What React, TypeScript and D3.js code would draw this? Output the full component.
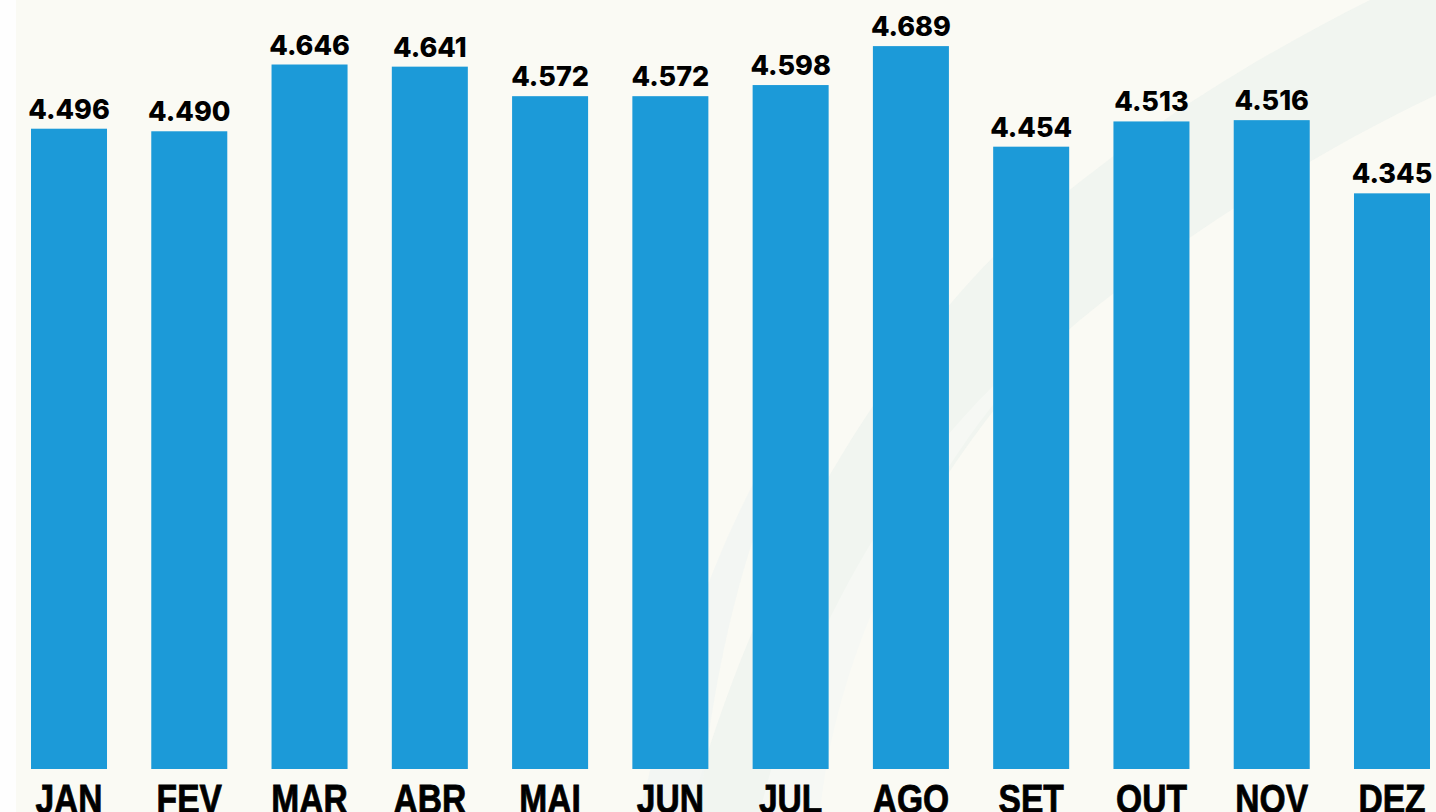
import React from "react";
import * as d3 from "d3";

const months = ["JAN", "FEV", "MAR", "ABR", "MAI", "JUN", "JUL", "AGO", "SET", "OUT", "NOV", "DEZ"];
const values = [4.496, 4.49, 4.646, 4.641, 4.572, 4.572, 4.598, 4.689, 4.454, 4.513, 4.516, 4.345];
const valueLabels = ["4.496", "4.490", "4.646", "4.641", "4.572", "4.572", "4.598", "4.689", "4.454", "4.513", "4.516", "4.345"];

const W = 1436;
const H = 812;

export default function App() {
  const x = d3.scaleBand<string>().domain(months).range([31, 1430]).paddingInner(0.368).paddingOuter(0);
  const y = d3.scaleLinear().domain([3, 5]).range([769, -87]);

  return (
    <svg width={W} height={H} style={{ position: "fixed", left: 0, top: 0, display: "block" }}>
      <rect x={0} y={0} width={W} height={H} fill="#fafaf4" />
      <rect x={0} y={0} width={16} height={H} fill="#fefefe" />
      <path
        d="M 1370 0 C 1250 60 1120 140 1000 250 C 880 370 760 560 690 812 L 790 812 C 850 620 960 420 1080 320 C 1190 230 1320 150 1436 95 L 1436 0 Z"
        fill="#eef3ef"
        opacity={0.85}
      />
      <path
        d="M 760 812 C 800 640 900 470 1010 370 L 1050 340 C 950 440 840 620 820 812 Z"
        fill="#f6f8f4"
      />
      <path
        d="M 640 812 C 680 640 740 470 830 370 C 760 480 715 640 700 812 Z"
        fill="#f1f5f2"
        opacity={0.8}
      />
      {months.map((m, i) => {
        const bx = x(m)!;
        const bw = x.bandwidth();
        const top = y(values[i]);
        return (
          <g key={m}>
            <rect x={bx} y={top} width={bw} height={y(3) - top} fill="#1c9ad8" />
            <text
              x={bx + bw / 2}
              y={top - 10}
              textAnchor="middle"
              fontFamily="Inter, 'Noto Sans', sans-serif"
              fontWeight={800}
              fontSize={27}
              fill="#000"
            >
              {valueLabels[i]}
            </text>
            <text
              transform={`translate(${bx + bw / 2},813) scale(0.84,1)`}
              textAnchor="middle"
              fontFamily="'Liberation Sans', Arial, sans-serif"
              fontWeight={700}
              fontSize={40}
              fill="#000"
              stroke="#000"
              strokeWidth={0.8}
            >
              {m}
            </text>
          </g>
        );
      })}
    </svg>
  );
}
